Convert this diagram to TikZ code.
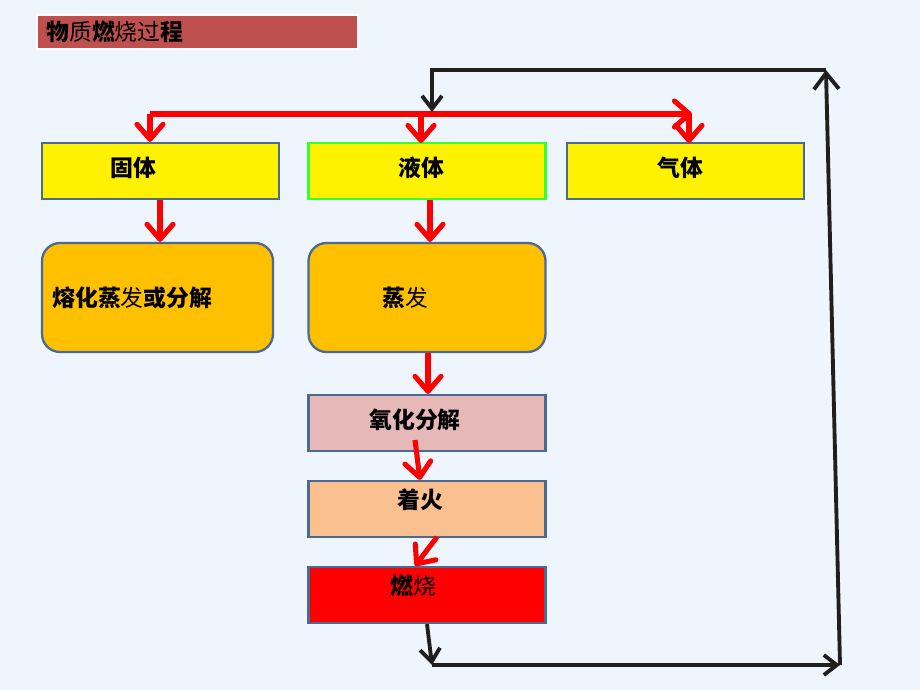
\documentclass[tikz,border=0pt]{standalone}
\usepackage{fontspec}
\setmainfont{Noto Sans CJK SC}
\usetikzlibrary{arrows.meta}
\definecolor{bgblue}{HTML}{EEF5FC}
\definecolor{edgeblue}{HTML}{4A6A94}
\definecolor{titlered}{HTML}{C0504D}
\definecolor{boxgreen}{HTML}{33FF33}
\definecolor{melt}{HTML}{FFC000}
\definecolor{oxid}{HTML}{E6B9B8}
\definecolor{fire}{HTML}{FAC090}
\newcommand{\bd}[1]{{\bfseries #1}}
\begin{document}
\begin{tikzpicture}[x=0.02cm,y=-0.02cm,
		box/.style={draw=edgeblue,line width=1.3pt,minimum width=4.74cm,minimum height=1.12cm,inner sep=0pt},
		roundbox/.style={box,rounded corners=0.36cm,minimum height=2.18cm},
		txt/.style={font=\fontsize{13}{15}\selectfont,inner sep=0pt},
		redline/.style={red,line width=2.9pt,line join=round,-{Straight Barb[length=3mm,width=5.2mm,line join=round,line cap=round]}},
		blackline/.style={black!88,line width=2.2pt,-{Straight Barb[length=2.6mm,width=4mm]}}]
		\useasboundingbox[fill=bgblue] (0,0) rectangle (920,690);
		% title
		\node[fill=titlered,draw=white,line width=1pt,minimum width=6.42cm,minimum height=0.68cm,inner sep=0pt] (title) at (197.5,32) {};
		\node[txt,anchor=west] (titletxt) at (46,32) {\bd{物}质\bd{燃}烧过\bd{程}};
		% states
		\node[box,fill=yellow] (gu) at (160.5,171) {};
		\node[box,fill=yellow,draw=boxgreen] (ye) at (427,171) {};
		\node[box,fill=yellow] (qi) at (685.5,171) {};
		\node[txt] (gutxt) at (133,168) {\bd{固体}};
		\node[txt] (yetxt) at (421,168) {\bd{液体}};
		\node[txt] (qitxt) at (680,168) {\bd{气体}};
		% process
		\node[roundbox,fill=melt,minimum width=4.62cm] (rh) at (157.5,297.5) {};
		\node[roundbox,fill=melt] (zf) at (427,297.5) {};
		\node[txt,anchor=west] (rhtxt) at (52,298) {\bd{熔化蒸}发\bd{或分解}};
		\node[txt] (zftxt) at (405,298) {\bd{蒸}发};
		\node[box,fill=oxid] (yh) at (427,423) {};
		\node[box,fill=fire] (zh) at (427,509) {};
		\node[box,fill=red] (rs) at (427,595) {};
		\node[txt] (yhtxt) at (415,420) {\bd{氧化分解}};
		\node[txt] (zhtxt) at (420,500) {\bd{着火}};
		\node[txt] (rstxt) at (413,586) {\bd{燃}烧};
		% red arrows
		\coordinate (rl) at (150,114);
		\coordinate (rr) at (692,114);
		\draw[redline] (rl) -- (rr);
		\draw[redline] (rl) -- (rl |- gu.north);
		\draw[redline] (421,114) -- (421,143);
		\draw[redline] (689,114) -- (689,143);
		\draw[redline] (gu.south -| 160,0) -- (rh.north -| 160,0);
		\draw[redline] (ye.south -| 430,0) -- (zf.north -| 430,0);
		\draw[redline] (zf.south -| 428,0) -- (yh.north -| 428,0);
		\draw[redline] (415,440) -- (zh.north -| 420,0);
		\draw[redline] (437,537) -- (rs.north -| 415,0);
		% black loop
		\coordinate (bl) at (432,665);
		\coordinate (br) at (840,665);
		\coordinate (tr) at (826,70);
		\coordinate (tl) at (432,70);
		\draw[blackline] (rs.south) -- (bl);
		\draw[blackline] (bl) -- (br);
		\draw[blackline,-{Straight Barb[length=3.2mm,width=5mm]}] (br) -- (tr);
		\draw[blackline] (tr) -- (tl) -- (432,112);
		\end{tikzpicture}
\end{document}
